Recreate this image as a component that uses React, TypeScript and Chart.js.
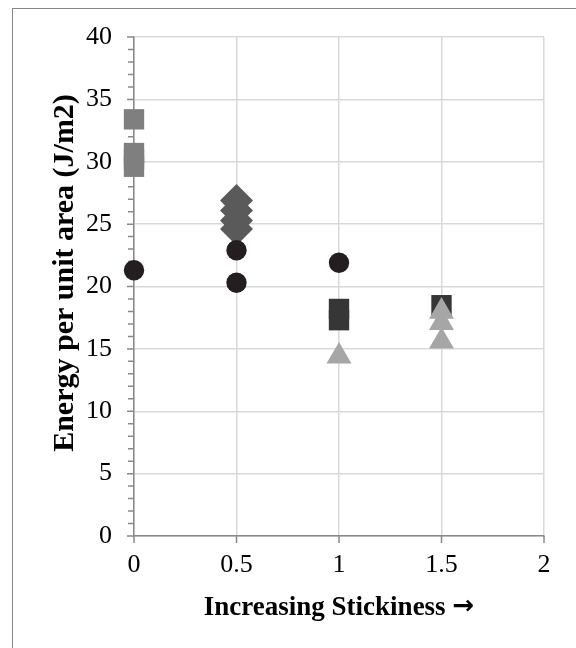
import React, { useEffect, useRef } from "react";
import { Chart, registerables } from "chart.js";

Chart.register(...registerables);

// Data (stickiness level, energy per unit area J/m2)
const graySquaresX = [0, 0, 0, 0];
const graySquaresY = [33.4, 30.7, 30.2, 29.6];
const diamondsX = [0.5, 0.5, 0.5, 0.5];
const diamondsY = [26.9, 26.1, 25.3, 24.6];
const circlesX = [0, 0.5, 0.5, 1];
const circlesY = [21.3, 22.9, 20.3, 21.9];
const darkSquaresX = [1, 1, 1.5];
const darkSquaresY = [18.2, 17.3, 18.5];
const trianglesX = [1, 1.5, 1.5, 1.5];
const trianglesY = [14.4, 18.0, 17.1, 15.6];

const xTicks = [0, 0.5, 1, 1.5, 2];
const yTicks = [0, 5, 10, 15, 20, 25, 30, 35, 40];

const xTitleText = "Increasing Stickiness ";
const xTitleArrow = "\u2192";
const yTitle = "Energy per unit area (J/m2)";

const pts = (xs: number[], ys: number[]) => xs.map((x, i) => ({ x, y: ys[i] }));

const AXIS_COLOR = "#898989";
const SERIF = "'Liberation Serif', 'Times New Roman', serif";

const tickPlugin = {
  id: "excelTicks",
  beforeDatasetsDraw(chart: any) {
    const { ctx, scales } = chart;
    const xs = scales.x;
    const ys = scales.y;
    const ax = xs.getPixelForValue(0);
    const ay = ys.getPixelForValue(0);
    ctx.save();
    ctx.strokeStyle = AXIS_COLOR;
    ctx.lineWidth = 1.5;
    ctx.beginPath();
    for (let v = 0; v <= 40; v += 1) {
      const py = ys.getPixelForValue(v);
      const major = v % 5 === 0;
      ctx.moveTo(ax - (major ? 7 : 6), py);
      ctx.lineTo(ax, py);
    }
    for (const v of xTicks) {
      const px = xs.getPixelForValue(v);
      ctx.moveTo(px, ay);
      ctx.lineTo(px, ay + 7);
    }
    ctx.stroke();
    ctx.restore();
  },
  afterDraw(chart: any) {
    const { ctx, chartArea } = chart;
    ctx.save();
    ctx.fillStyle = "#000";
    // X title with heavy arrow
    const textFont = `bold 27px ${SERIF}`;
    const arrowFont = `bold 26px 'DejaVu Sans', sans-serif`;
    ctx.font = textFont;
    const w1 = ctx.measureText(xTitleText).width;
    ctx.font = arrowFont;
    const w2 = ctx.measureText(xTitleArrow).width;
    const cx = (chartArea.left + chartArea.right) / 2;
    const gap = 0;
    const x0 = cx - (w1 + gap + w2) / 2;
    ctx.textBaseline = "alphabetic";
    ctx.textAlign = "left";
    ctx.font = textFont;
    ctx.fillText(xTitleText, x0, 615);
    ctx.font = arrowFont;
    ctx.fillText(xTitleArrow, x0 + w1 + gap, 614);
    // Y title
    ctx.translate(73, 273);
    ctx.rotate(-Math.PI / 2);
    ctx.font = `bold 30px ${SERIF}`;
    ctx.textAlign = "center";
    ctx.fillText(yTitle, 0, 0);
    ctx.restore();
  },
};

export default function App() {
  const ref = useRef<HTMLCanvasElement | null>(null);

  useEffect(() => {
    if (!ref.current) return;
    const common = { borderWidth: 0, clip: false as any, showLine: false };
    const chart = new Chart(ref.current, {
      type: "scatter",
      data: {
        datasets: [
          {
            ...common,
            label: "triangles",
            data: pts(trianglesX, trianglesY),
            pointStyle: "triangle",
            pointRadius: 14.4,
            backgroundColor: "#a6a6a6",
            borderColor: "#a6a6a6",
          },
          {
            ...common,
            label: "dark squares",
            data: pts(darkSquaresX, darkSquaresY),
            pointStyle: "rect",
            pointRadius: 14.4,
            backgroundColor: "#363636",
            borderColor: "#363636",
          },
          {
            ...common,
            label: "circles",
            data: pts(circlesX, circlesY),
            pointStyle: "circle",
            pointRadius: 10.2,
            backgroundColor: "#231f20",
            borderColor: "#231f20",
          },
          {
            ...common,
            label: "diamonds",
            data: pts(diamondsX, diamondsY),
            pointStyle: "rectRot",
            pointRadius: 16.5,
            backgroundColor: "#5a5a5a",
            borderColor: "#5a5a5a",
          },
          {
            ...common,
            label: "gray squares",
            data: pts(graySquaresX, graySquaresY),
            pointStyle: "rect",
            pointRadius: 14.4,
            backgroundColor: "#7f7f7f",
            borderColor: "#7f7f7f",
          },
        ],
      },
      options: {
        animation: false,
        responsive: false,
        maintainAspectRatio: false,
        layout: { padding: { top: 37, right: 32, left: 0, bottom: 0 } },
        plugins: {
          legend: { display: false },
          tooltip: { enabled: false },
        },
        scales: {
          x: {
            type: "linear",
            min: 0,
            max: 2,
            afterBuildTicks: (s: any) => {
              s.ticks = xTicks.map((v) => ({ value: v }));
            },
            afterFit: (s: any) => {
              s.height = 112;
              s.paddingLeft = 0;
              s.paddingRight = 0;
            },
            grid: { color: "#d9d9d9", lineWidth: 1.5, drawTicks: false },
            border: { color: AXIS_COLOR, width: 1.5 },
            ticks: {
              padding: 14,
              color: "#000",
              font: { family: SERIF, size: 26 },
              callback: (v: any) => String(v),
              maxRotation: 0,
            },
            title: { display: false },
          },
          y: {
            type: "linear",
            min: 0,
            max: 40,
            afterBuildTicks: (s: any) => {
              s.ticks = yTicks.map((v) => ({ value: v }));
            },
            afterFit: (s: any) => {
              s.width = 134;
              s.paddingTop = 0;
              s.paddingBottom = 0;
            },
            grid: { color: "#d9d9d9", lineWidth: 1.5, drawTicks: false },
            border: { color: AXIS_COLOR, width: 1.5 },
            ticks: {
              padding: 22,
              color: "#000",
              font: { family: SERIF, size: 26 },
            },
            title: { display: false },
          },
        },
      },
      plugins: [tickPlugin],
    });
    return () => chart.destroy();
  }, []);

  return (
    <div
      style={{
        position: "fixed",
        left: 0,
        top: 0,
        width: 576,
        height: 648,
        overflow: "hidden",
        background: "#fff",
      }}
    >
      <div
        style={{
          position: "absolute",
          left: 12,
          top: 8,
          width: 700,
          height: 800,
          borderLeft: "1.5px solid #878787",
          borderTop: "1.5px solid #878787",
        }}
      />
      <canvas
        ref={ref}
        width={576}
        height={648}
        style={{ position: "absolute", left: 0, top: 0, width: 576, height: 648 }}
      />
    </div>
  );
}
